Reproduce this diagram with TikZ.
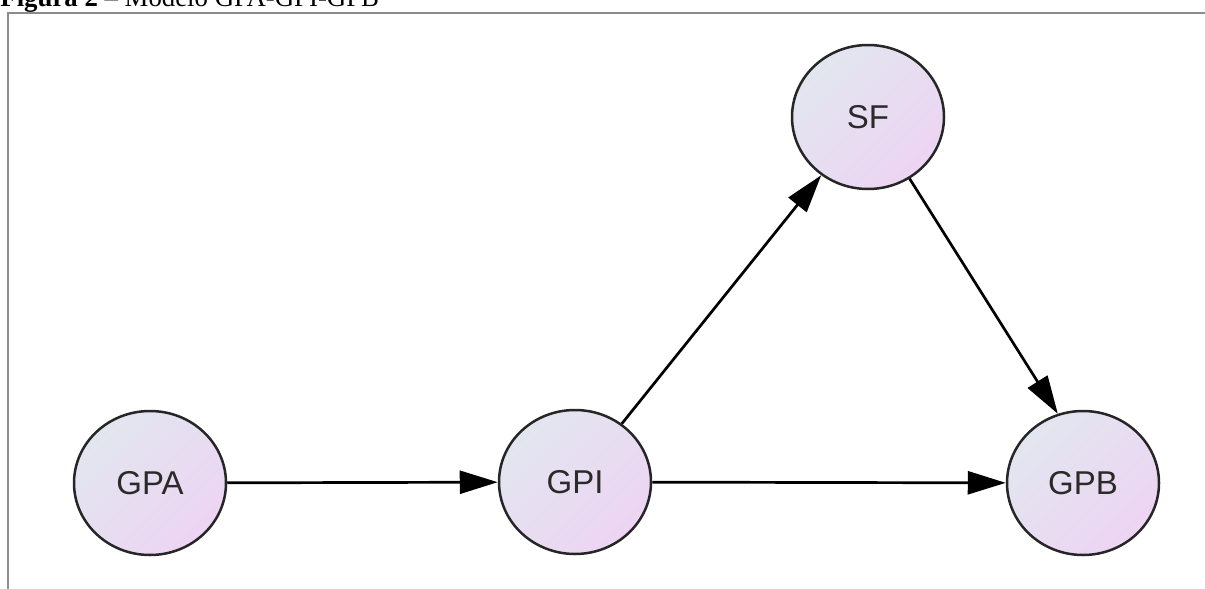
\documentclass[tikz,border=0pt]{standalone}
\usepackage{fontspec}
\setmainfont{Liberation Serif}
\newfontfamily\nodefont{Liberation Sans}
\usetikzlibrary{shapes.geometric,arrows.meta}
\definecolor{fillA}{HTML}{E2E6EF}
\definecolor{fillB}{HTML}{EDD4F3}
\definecolor{framegray}{HTML}{8C8C8C}
\definecolor{labelgray}{HTML}{2A2A2A}
\begin{document}
\begin{tikzpicture}[x=0.5pt,y=-0.5pt,
  state/.style={ellipse, draw=black!85, line width=1.25pt,
    minimum width=76pt, minimum height=72pt, inner sep=0pt,
    shading=axis, top color=fillA, bottom color=fillB, shading angle=45,
    font=\nodefont\fontsize{16.5}{19}\selectfont, text=labelgray},
  link/.style={line width=1.35pt, -{Triangle[length=19pt,width=11.5pt]}},
  frameline/.style={draw=framegray, line width=1pt}]
\useasboundingbox (0,0) rectangle (1205,589);
\clip (0,0) rectangle (1205,589);

% caption above the frame
\node[anchor=base west, inner sep=0pt, font=\fontsize{13.4}{16}\selectfont] (caption)
  at (0,6) {\textbf{Figura 2} – Modelo GPA-GPI-GPB};

% frame
\coordinate (fcorner) at (8,12.5);
\coordinate (fright) at (1206,12.5);
\coordinate (fbottom) at (8,590);
\draw[frameline] (fright) -- (fcorner) -- (fbottom);

% states
\node[state] (GPA) at (150,483) {GPA};
\node[state] (GPI) at (575,482) {GPI};
\node[state] (SF)  at (868,117) {SF};
\node[state] (GPB) at (1083,483) {GPB};

% transitions
\draw[link] (GPA) -- (GPI);
\draw[link] (GPI) -- (GPB);
\draw[link] (GPI) -- (SF);
\draw[link] (SF.-56) -- (GPB.110);
\end{tikzpicture}
\end{document}
